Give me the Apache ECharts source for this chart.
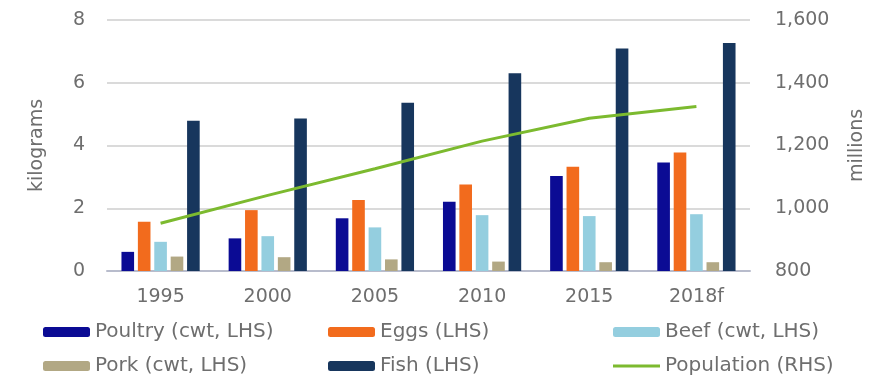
<!DOCTYPE html>
<html>
<head>
<meta charset="utf-8">
<script src="https://cdn.jsdelivr.net/npm/echarts@6/dist/echarts.min.js"></script>
<style>
  html, body { margin: 0; padding: 0; background: #ffffff; }
  #chart { width: 881px; height: 382px; }
</style>
</head>
<body>
<div id="chart"></div>
<script>
// Per-capita consumption (kg) by year, with population on the right axis
const years = ['1995', '2000', '2005', '2010', '2015', '2018f'];
const poultry = [0.61, 1.04, 1.68, 2.21, 3.03, 3.46];
const eggs = [1.57, 1.94, 2.26, 2.76, 3.32, 3.78];
const beef = [0.93, 1.11, 1.39, 1.78, 1.75, 1.81];
const pork = [0.46, 0.44, 0.37, 0.30, 0.28, 0.28];
const fish = [4.79, 4.86, 5.36, 6.30, 7.09, 7.27];
const population = [952, 1041, 1126, 1214, 1287, 1324];

const leftTicks = { min: 0, max: 8, interval: 2 };
const rightTicks = { min: 800, max: 1600, interval: 200 };

const FONT = 'DejaVu Sans';
const TEXT = '#6e6e6e';
const LINE_ICON = 'path://M0,0H47V3H0Z';

const chart = echarts.init(document.getElementById('chart'));

function bar(name, data, color) {
  return {
    name, type: 'bar', data, yAxisIndex: 0,
    barCategoryGap: '27%', barGap: '30%',
    itemStyle: { color }
  };
}

function legendColumn(left, names) {
  return {
    orient: 'vertical', left, top: 322, padding: 0,
    itemWidth: 47, itemHeight: 10, itemGap: 14,
    data: names,
    textStyle: { fontFamily: FONT, fontSize: 20, color: TEXT, lineHeight: 20 }
  };
}

chart.setOption({
  animation: false,
  backgroundColor: '#ffffff',
  grid: { left: 107, right: 131, top: 20, bottom: 111 },
  legend: [
    legendColumn(43, ['Poultry (cwt, LHS)', 'Pork (cwt, LHS)']),
    legendColumn(328, ['Eggs (LHS)', 'Fish (LHS)']),
    legendColumn(613, ['Beef (cwt, LHS)', { name: 'Population (RHS)', icon: LINE_ICON }])
  ],
  xAxis: {
    type: 'category', data: years,
    axisTick: { show: false },
    axisLine: { lineStyle: { color: '#b8bccc', width: 2 } },
    axisLabel: { fontFamily: FONT, fontSize: 19, color: TEXT, margin: 17 }
  },
  yAxis: [
    {
      type: 'value', ...leftTicks,
      name: 'kilograms', nameLocation: 'middle', nameGap: 60, nameRotate: 90,
      nameTextStyle: { fontFamily: FONT, fontSize: 19, color: TEXT },
      axisLabel: { fontFamily: FONT, fontSize: 19, color: TEXT, margin: 22 },
      splitLine: { lineStyle: { color: '#dadada', width: 2 } },
      axisLine: { show: false }, axisTick: { show: false }
    },
    {
      type: 'value', ...rightTicks, position: 'right',
      name: 'millions', nameLocation: 'middle', nameGap: 98, nameRotate: 90,
      nameTextStyle: { fontFamily: FONT, fontSize: 19, color: TEXT },
      axisLabel: {
        fontFamily: FONT, fontSize: 19, color: TEXT, margin: 25,
        formatter: v => v.toLocaleString('en-US')
      },
      splitLine: { show: false },
      axisLine: { show: false }, axisTick: { show: false }
    }
  ],
  series: [
    bar('Poultry (cwt, LHS)', poultry, '#0b0b94'),
    bar('Eggs (LHS)', eggs, '#f26b1d'),
    bar('Beef (cwt, LHS)', beef, '#94cedf'),
    bar('Pork (cwt, LHS)', pork, '#b2a884'),
    bar('Fish (LHS)', fish, '#17365d'),
    {
      name: 'Population (RHS)', type: 'line', yAxisIndex: 1,
      data: population, symbol: 'none',
      lineStyle: { color: '#7cba2f', width: 3 },
      itemStyle: { color: '#7cba2f' }
    }
  ]
});
</script>
</body>
</html>
